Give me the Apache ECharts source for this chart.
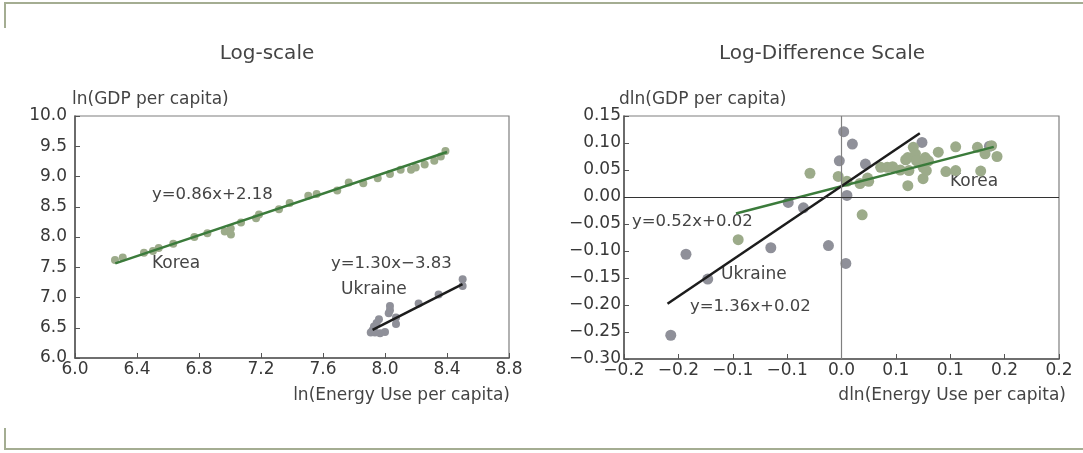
<!DOCTYPE html>
<html>
<head>
<meta charset="utf-8">
<script src="https://cdn.jsdelivr.net/npm/echarts@6/dist/echarts.min.js"></script>
<style>
  html, body { margin: 0; padding: 0; background: #ffffff; }
  #chart { width: 1083px; height: 453px; }
</style>
</head>
<body>
<div id="chart"></div>
<script>
// ---- Tick labels ----
const levelXTicks = ['6.0', '6.4', '6.8', '7.2', '7.6', '8.0', '8.4', '8.8'];
const levelYTicks = ['6.0', '6.5', '7.0', '7.5', '8.0', '8.5', '9.0', '9.5', '10.0'];
const diffXTicks = ['\u22120.2', '\u22120.2', '\u22120.1', '\u22120.1', '0.0', '0.1', '0.1', '0.2', '0.2'];
const diffYTicks = ['\u22120.30', '\u22120.25', '\u22120.20', '\u22120.15', '\u22120.10', '\u22120.05', '0.00', '0.05', '0.10', '0.15'];

// ---- Log-scale: ln(energy use per capita) vs ln(GDP per capita) ----
const koreaLevelX = [6.258, 6.308, 6.445, 6.503, 6.540, 6.634, 6.770, 6.854, 6.966, 7.005, 7.006, 7.071, 7.168, 7.187, 7.316, 7.385, 7.505, 7.559, 7.692, 7.766, 7.860, 7.953, 8.032, 8.101, 8.168, 8.198, 8.256, 8.318, 8.360, 8.390];
const koreaLevelY = [7.62, 7.66, 7.74, 7.77, 7.82, 7.89, 8.00, 8.06, 8.09, 8.14, 8.04, 8.24, 8.31, 8.37, 8.46, 8.56, 8.68, 8.71, 8.77, 8.90, 8.89, 8.97, 9.04, 9.11, 9.11, 9.15, 9.20, 9.26, 9.33, 9.42];
const ukraineLevelX = [7.908, 7.920, 7.929, 7.935, 7.946, 7.961, 7.968, 8.000, 8.024, 8.032, 8.032, 8.071, 8.071, 8.217, 8.346, 8.501, 8.501];
const ukraineLevelY = [6.42, 6.46, 6.52, 6.42, 6.58, 6.64, 6.41, 6.43, 6.74, 6.79, 6.86, 6.67, 6.56, 6.90, 7.05, 7.30, 7.19];

// ---- Log-difference: dln(energy use) vs dln(GDP) ----
const koreaDiffX = [-0.095, -0.029, -0.003, 0.005, 0.017, 0.019, 0.024, 0.025, 0.036, 0.042, 0.047, 0.054, 0.059, 0.061, 0.062, 0.061, 0.066, 0.068, 0.069, 0.075, 0.075, 0.077, 0.078, 0.080, 0.089, 0.096, 0.105, 0.105, 0.125, 0.128, 0.132, 0.138, 0.143];
const koreaDiffY = [-0.079, 0.044, 0.038, 0.029, 0.025, -0.033, 0.035, 0.029, 0.055, 0.055, 0.056, 0.050, 0.069, 0.073, 0.049, 0.021, 0.092, 0.080, 0.067, 0.055, 0.034, 0.073, 0.049, 0.067, 0.083, 0.047, 0.093, 0.049, 0.092, 0.048, 0.080, 0.095, 0.075];
const ukraineDiffX = [-0.157, -0.143, -0.123, -0.065, -0.049, -0.035, -0.012, -0.002, 0.002, 0.004, 0.005, 0.010, 0.022, 0.074, 0.136];
const ukraineDiffY = [-0.256, -0.106, -0.152, -0.094, -0.010, -0.020, -0.090, 0.067, 0.121, -0.123, 0.003, 0.098, 0.061, 0.101, 0.094];

// ---- Fitted lines (slope, intercept, x-range) ----
const koreaLevelFit = [0.86, 2.18, 6.26, 8.40];
const ukraineLevelFit = [1.30, -3.83, 7.92, 8.50];
const koreaDiffFit = [0.52, 0.02, -0.097, 0.140];
const ukraineDiffFit = [1.36, 0.02, -0.160, 0.072];

const FONT = 'DejaVu Sans';
const GREEN_DOT = '#9cab8a';
const GRAY_DOT = '#8f9099';
const GREEN_LINE = '#3b7b3b';
const BLACK_LINE = '#1c1c1c';
const TEXT = '#444444';

const zip = (xs, ys) => xs.map((x, i) => [x, ys[i]]);
const fitLine = f => [[f[2], f[0] * f[2] + f[1]], [f[3], f[0] * f[3] + f[1]]];
const tickFmt = (labels, min, step) => v => labels[Math.round((v - min) / step)] ?? '';

function valueAxis(grid, min, max, interval, labels, margin) {
  return {
    type: 'value', gridIndex: grid, min, max, interval,
    axisLine: { show: true, onZero: false, lineStyle: { color: '#555555', width: 1.5 } },
    axisTick: { show: true, inside: true, length: 5, lineStyle: { color: '#555555', width: 1 } },
    splitLine: { show: false },
    axisLabel: {
      formatter: tickFmt(labels, min, interval),
      fontFamily: FONT, fontSize: 17, color: '#383838', margin
    }
  };
}

function label(text, x, y, size, align) {
  return {
    type: 'text', x, y, silent: true,
    style: { text, fontFamily: FONT, fontSize: size, fill: TEXT, align: align || 'left', verticalAlign: 'middle' }
  };
}

function rule(x1, y1, x2, y2) {
  return { type: 'line', silent: true, shape: { x1, y1, x2, y2 }, style: { stroke: '#a4ad92', lineWidth: 2 } };
}

const chart = echarts.init(document.getElementById('chart'), null, { renderer: 'canvas' });

chart.setOption({
  animation: false,
  backgroundColor: '#ffffff',
  title: [
    { text: 'Log-scale', left: 262, top: 39, textAlign: 'center',
      textStyle: { fontFamily: FONT, fontSize: 20, fontWeight: 'normal', color: TEXT } },
    { text: 'Log-Difference Scale', left: 817, top: 39, textAlign: 'center',
      textStyle: { fontFamily: FONT, fontSize: 20, fontWeight: 'normal', color: TEXT } }
  ],
  grid: [
    { left: 75, right: 574, top: 116, bottom: 95, show: true, borderColor: '#7f7f7f', borderWidth: 1.2 },
    { left: 624, right: 24, top: 116, bottom: 94, show: true, borderColor: '#7f7f7f', borderWidth: 1.2 }
  ],
  xAxis: [
    valueAxis(0, 6.0, 8.8, 0.4, levelXTicks, 3),
    valueAxis(1, -0.2, 0.2, 0.05, diffXTicks, 3)
  ],
  yAxis: [
    valueAxis(0, 6.0, 10.0, 0.5, levelYTicks, 8),
    valueAxis(1, -0.30, 0.15, 0.05, diffYTicks, 3)
  ],
  series: [
    // Log-scale panel
    { type: 'scatter', xAxisIndex: 0, yAxisIndex: 0, symbolSize: 8, z: 2,
      itemStyle: { color: GREEN_DOT, opacity: 1 }, data: zip(koreaLevelX, koreaLevelY) },
    { type: 'scatter', xAxisIndex: 0, yAxisIndex: 0, symbolSize: 8, z: 2,
      itemStyle: { color: GRAY_DOT, opacity: 1 }, data: zip(ukraineLevelX, ukraineLevelY) },
    { type: 'line', xAxisIndex: 0, yAxisIndex: 0, symbol: 'none', z: 3,
      lineStyle: { color: GREEN_LINE, width: 2.5 }, data: fitLine(koreaLevelFit) },
    { type: 'line', xAxisIndex: 0, yAxisIndex: 0, symbol: 'none', z: 3,
      lineStyle: { color: BLACK_LINE, width: 2.5 }, data: fitLine(ukraineLevelFit) },

    // Log-difference panel: zero reference lines
    { type: 'line', xAxisIndex: 1, yAxisIndex: 1, data: [], z: 1,
      markLine: {
        silent: true, symbol: 'none', label: { show: false },
        data: [
          { xAxis: 0, lineStyle: { color: '#808080', width: 1.2, type: 'solid' } },
          { yAxis: 0, lineStyle: { color: '#333333', width: 1, type: 'solid' } }
        ]
      } },
    { type: 'scatter', xAxisIndex: 1, yAxisIndex: 1, symbolSize: 11, z: 2,
      itemStyle: { color: GRAY_DOT, opacity: 1 }, data: zip(ukraineDiffX, ukraineDiffY) },
    { type: 'scatter', xAxisIndex: 1, yAxisIndex: 1, symbolSize: 11, z: 2,
      itemStyle: { color: GREEN_DOT, opacity: 1 }, data: zip(koreaDiffX, koreaDiffY) },
    { type: 'line', xAxisIndex: 1, yAxisIndex: 1, symbol: 'none', z: 3,
      lineStyle: { color: GREEN_LINE, width: 2.5 }, data: fitLine(koreaDiffFit) },
    { type: 'line', xAxisIndex: 1, yAxisIndex: 1, symbol: 'none', z: 4,
      lineStyle: { color: BLACK_LINE, width: 2.5 }, data: fitLine(ukraineDiffFit) }
  ],
  graphic: [
    // page frame corners
    rule(4, 3, 1083, 3), rule(5, 2, 5, 28),
    rule(4, 449, 1083, 449), rule(5, 428, 5, 450),

    // axis titles
    label('ln(GDP per capita)', 72, 100, 17),
    label('ln(Energy Use per capita)', 510, 396, 17, 'right'),
    label('dln(GDP per capita)', 619, 100, 17),
    label('dln(Energy Use per capita)', 1066, 396, 17, 'right'),

    // annotations, log-scale panel
    label('y=0.86x+2.18', 152, 195, 16.5),
    label('Korea', 152, 264, 17),
    label('y=1.30x\u22123.83', 331, 264, 16.5),
    label('Ukraine', 341, 290, 17),

    // annotations, log-difference panel
    label('y=0.52x+0.02', 632, 222, 16.5),
    label('Ukraine', 721, 275, 17),
    label('y=1.36x+0.02', 690, 307, 16.5),
    label('Korea', 950, 182, 17)
  ]
});
</script>
</body>
</html>
